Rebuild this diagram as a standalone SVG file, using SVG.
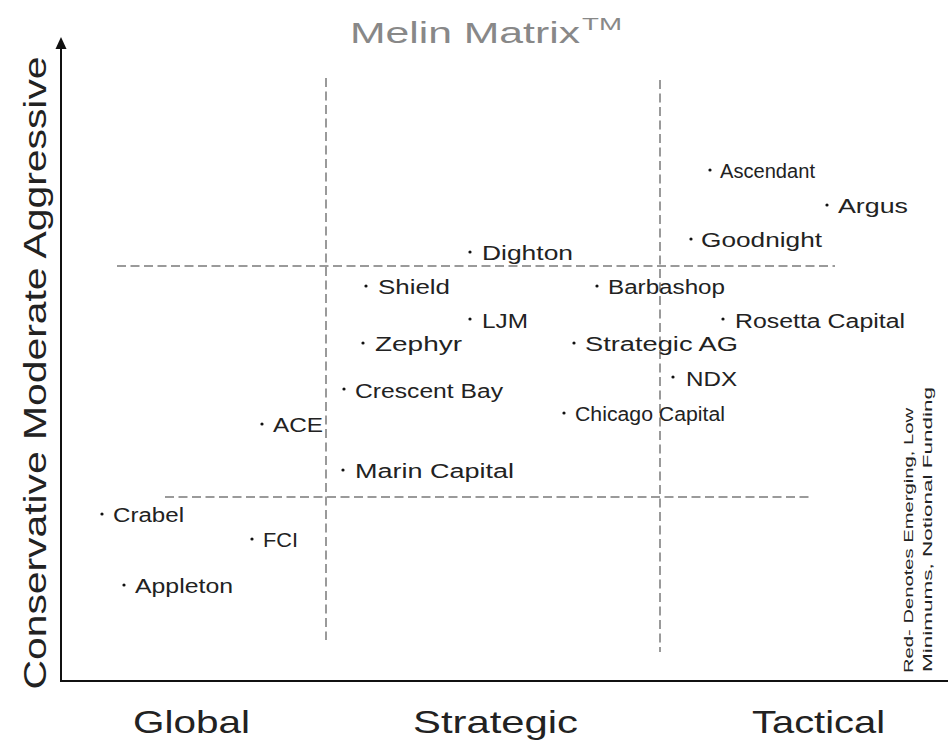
<svg xmlns="http://www.w3.org/2000/svg" width="948" height="743" viewBox="0 0 948 743">
<defs>
<style>
.lbl{font-family:"Liberation Sans",Arial,sans-serif;font-size:20px;fill:#222;}
.axis{stroke:#111;stroke-width:2;fill:none;}
.dash{stroke:#9a9a9a;stroke-width:2;stroke-dasharray:9 4.5;fill:none;}
.dot{fill:#111;}
.big{font-family:"Liberation Sans",Arial,sans-serif;fill:#222;}
</style>
</defs>
<rect width="948" height="743" fill="#fff"/>
<text class="big" x="350" y="43" font-size="29" fill="#888" style="fill:#888" textLength="230" lengthAdjust="spacingAndGlyphs">Melin Matrix</text>
<text class="big" x="582" y="30" font-size="16" style="fill:#888" textLength="40" lengthAdjust="spacingAndGlyphs">TM</text>
<g id="axes">
<line class="axis" x1="61" y1="47" x2="61" y2="681"/>
<line class="axis" x1="60" y1="681" x2="948" y2="681"/>
<polygon points="61,37 55.5,49 66.5,49" fill="#111"/>
</g>
<g id="gridlines">
<line class="dash" x1="117" y1="266" x2="835" y2="266"/>
<line class="dash" x1="165" y1="497" x2="810" y2="497"/>
<line class="dash" x1="326" y1="78" x2="326" y2="640"/>
<line class="dash" x1="660" y1="80" x2="660" y2="652"/>
</g>
<text class="big" transform="translate(46,373) rotate(-90)" font-size="32" text-anchor="middle" textLength="633" lengthAdjust="spacingAndGlyphs">Conservative Moderate Aggressive</text>
<text class="big" x="133" y="733" font-size="32" textLength="117" lengthAdjust="spacingAndGlyphs">Global</text>
<text class="big" x="413" y="733" font-size="32" textLength="165" lengthAdjust="spacingAndGlyphs">Strategic</text>
<text class="big" x="752" y="733" font-size="32" textLength="133" lengthAdjust="spacingAndGlyphs">Tactical</text>
<text class="big" transform="translate(913,673) rotate(-90)" font-size="13" textLength="265" lengthAdjust="spacingAndGlyphs">Red- Denotes Emerging, Low</text>
<text class="big" transform="translate(932,672) rotate(-90)" font-size="13" textLength="285" lengthAdjust="spacingAndGlyphs">Minimums, Notional Funding</text>
<g id="ascendant"><circle class="dot" cx="710" cy="170" r="1.6"/><text class="lbl" x="720" y="178" textLength="95" lengthAdjust="spacingAndGlyphs">Ascendant</text></g>
<g id="argus"><circle class="dot" cx="827" cy="205" r="1.6"/><text class="lbl" x="838" y="213" textLength="70" lengthAdjust="spacingAndGlyphs">Argus</text></g>
<g id="goodnight"><circle class="dot" cx="691" cy="239" r="1.6"/><text class="lbl" x="701" y="247" textLength="121" lengthAdjust="spacingAndGlyphs">Goodnight</text></g>
<g id="dighton"><circle class="dot" cx="470" cy="252" r="1.6"/><text class="lbl" x="482" y="260" textLength="91" lengthAdjust="spacingAndGlyphs">Dighton</text></g>
<g id="shield"><circle class="dot" cx="366" cy="286" r="1.6"/><text class="lbl" x="378" y="294" textLength="72" lengthAdjust="spacingAndGlyphs">Shield</text></g>
<g id="barbashop"><circle class="dot" cx="597" cy="286" r="1.6"/><text class="lbl" x="608" y="294" textLength="117" lengthAdjust="spacingAndGlyphs">Barbashop</text></g>
<g id="ljm"><circle class="dot" cx="470" cy="319" r="1.6"/><text class="lbl" x="482" y="328" textLength="46" lengthAdjust="spacingAndGlyphs">LJM</text></g>
<g id="rosetta"><circle class="dot" cx="723" cy="319" r="1.6"/><text class="lbl" x="735" y="328" textLength="170" lengthAdjust="spacingAndGlyphs">Rosetta Capital</text></g>
<g id="zephyr"><circle class="dot" cx="363" cy="343" r="1.6"/><text class="lbl" x="375" y="351" textLength="87" lengthAdjust="spacingAndGlyphs">Zephyr</text></g>
<g id="strategicag"><circle class="dot" cx="574" cy="343" r="1.6"/><text class="lbl" x="585" y="351" textLength="153" lengthAdjust="spacingAndGlyphs">Strategic AG</text></g>
<g id="ndx"><circle class="dot" cx="673" cy="377" r="1.6"/><text class="lbl" x="686" y="386" textLength="51" lengthAdjust="spacingAndGlyphs">NDX</text></g>
<g id="crescentbay"><circle class="dot" cx="344" cy="389" r="1.6"/><text class="lbl" x="355" y="398" textLength="148" lengthAdjust="spacingAndGlyphs">Crescent Bay</text></g>
<g id="chicago"><circle class="dot" cx="564" cy="413" r="1.6"/><text class="lbl" x="575" y="421" textLength="150" lengthAdjust="spacingAndGlyphs">Chicago Capital</text></g>
<g id="ace"><circle class="dot" cx="262" cy="424" r="1.6"/><text class="lbl" x="273" y="432" textLength="50" lengthAdjust="spacingAndGlyphs">ACE</text></g>
<g id="marin"><circle class="dot" cx="343" cy="470" r="1.6"/><text class="lbl" x="355" y="478" textLength="159" lengthAdjust="spacingAndGlyphs">Marin Capital</text></g>
<g id="crabel"><circle class="dot" cx="102" cy="514" r="1.6"/><text class="lbl" x="113" y="522" textLength="71" lengthAdjust="spacingAndGlyphs">Crabel</text></g>
<g id="fci"><circle class="dot" cx="252" cy="539" r="1.6"/><text class="lbl" x="263" y="547" textLength="35" lengthAdjust="spacingAndGlyphs">FCI</text></g>
<g id="appleton"><circle class="dot" cx="124" cy="585" r="1.6"/><text class="lbl" x="135" y="593" textLength="98" lengthAdjust="spacingAndGlyphs">Appleton</text></g>
</svg>
